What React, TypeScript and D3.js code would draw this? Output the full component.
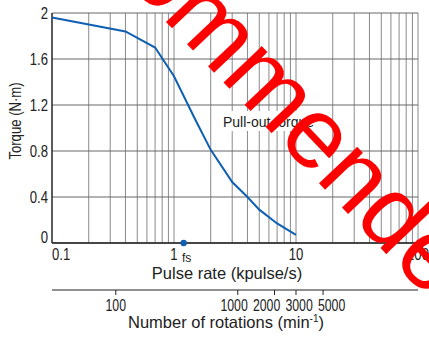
import React from 'react';
import * as d3 from 'd3';

const pulseRate = [0.1, 0.4, 0.7, 1, 1.5, 2, 3, 4, 5, 7, 10];
const torque = [1.96, 1.84, 1.7, 1.45, 1.07, 0.81, 0.53, 0.4, 0.29, 0.17, 0.07];
const xTickLabels = [0.1, 1, 10, 100];
const yTicks = [0, 0.4, 0.8, 1.2, 1.6, 2];
const rpmTicks = [100, 1000, 2000, 3000, 5000];
const fsValue = 1.2;
const watermark = 'Not recommended';
const curveLabel = 'Pull-out torque';

const SANS = "'Liberation Sans', Arial, sans-serif";
const SQUEEZE = 0.82;

function NText(props: { x: number; y: number; anchor?: string; rotate?: number; size?: number; squeeze?: number; children: any }) {
  const { x, y, anchor = 'middle', rotate = 0, size = 16, squeeze = SQUEEZE, children } = props;
  return (
    <text
      transform={`translate(${x},${y}) rotate(${rotate}) scale(${squeeze},1)`}
      textAnchor={anchor}
      fontFamily={SANS}
      fontSize={size}
      fill="#222"
    >
      {children}
    </text>
  );
}

// push labels apart so neighbouring labels do not collide
function dodge(pos: number[], minGap: number) {
  const p = pos.slice();
  for (let it = 0; it < 100; it++) {
    for (let i = 1; i < p.length; i++) {
      const d = p[i] - p[i - 1];
      if (d < minGap) {
        const s = (minGap - d) / 2;
        p[i - 1] -= s;
        p[i] += s;
      }
    }
  }
  return p;
}

export default function App() {
  const W = 429, H = 338;
  const left = 52, right = 418, top = 13, bottom = 243;
  const x = d3.scaleLog().domain([0.1, 100]).range([left, right]);
  const y = d3.scaleLinear().domain([0, 2]).range([bottom, top]);
  const rpm = d3.scaleLog().domain([30, 30000]).range([left, right]);
  const line = d3.line<number>().x((d, i) => x(pulseRate[i])).y((d) => y(d));
  const gridX = x.ticks();
  const axisY2 = 290;
  const rpmLabelPos = dodge(rpmTicks.map((v) => rpm(v)), 32.5);

  const F = 100;
  const ang = 46.5;
  const oc = [161, -21];
  const oOffset = 3.501 * F;

  return (
    <svg width={W} height={H} style={{ position: 'absolute', left: 0, top: 0, background: '#fff' }}>
      {gridX.map((v, i) => (
        <line key={'gx' + i} x1={x(v)} x2={x(v)} y1={top} y2={bottom} stroke="#8a8a8a" strokeWidth={1} />
      ))}
      {yTicks.map((v, i) => (
        <line key={'gy' + i} x1={left} x2={right} y1={y(v)} y2={y(v)} stroke="#666" strokeWidth={1} />
      ))}
      <line x1={left} x2={left} y1={top} y2={bottom} stroke="#222" strokeWidth={1.3} />
      <line x1={left} x2={right} y1={bottom} y2={bottom} stroke="#222" strokeWidth={1.5} />

      <rect x={221} y={111} width={94} height={20} fill="#fff" />
      <text x={223} y={127} fontFamily={SANS} fontSize={14} fill="#222">{curveLabel}</text>

      <path d={line(torque) || ''} fill="none" stroke="#0f5fb2" strokeWidth={2} />
      <circle cx={x(fsValue)} cy={bottom} r={3.2} fill="#0f5fb2" />

      {yTicks.map((v, i) => (
        <NText key={'yl' + i} x={48} y={v === 0 ? y(v) : y(v) + 5.8} anchor="end">{String(v)}</NText>
      ))}
      {xTickLabels.map((v, i) => (
        <NText key={'xl' + i} x={x(v)} y={260} anchor={i === 0 ? 'start' : 'middle'}>{String(v)}</NText>
      ))}
      <text x={x(fsValue) + 3} y={261.5} textAnchor="middle" fontFamily={SANS} fontSize={12} fill="#222">fs</text>

      <NText x={21} y={121} rotate={-90}>Torque (N·m)</NText>
      <text x={227} y={278.5} textAnchor="middle" fontFamily={SANS} fontSize={16.5} fill="#222">Pulse rate (kpulse/s)</text>

      <line x1={left} x2={right} y1={axisY2} y2={axisY2} stroke="#222" strokeWidth={1.2} />
      {rpmTicks.map((v, i) => (
        <g key={'r' + i}>
          <line x1={rpm(v)} x2={rpm(v)} y1={axisY2} y2={axisY2 + 5} stroke="#222" strokeWidth={1} />
          <NText x={rpmLabelPos[i]} y={311} squeeze={0.77}>{String(v)}</NText>
        </g>
      ))}
      <text x={226} y={328} textAnchor="middle" fontFamily={SANS} fontSize={16.5} fill="#222">
        Number of rotations (min<tspan fontSize={10} dy={-6}>-1</tspan><tspan dy={6}>)</tspan>
      </text>

      <text
        transform={`translate(${oc[0]},${oc[1]}) rotate(${ang})`}
        x={-oOffset}
        y={0.26 * F}
        fontFamily={SANS}
        fontSize={F}
        fill="#ff0000"
      >
        {watermark}
      </text>
    </svg>
  );
}
